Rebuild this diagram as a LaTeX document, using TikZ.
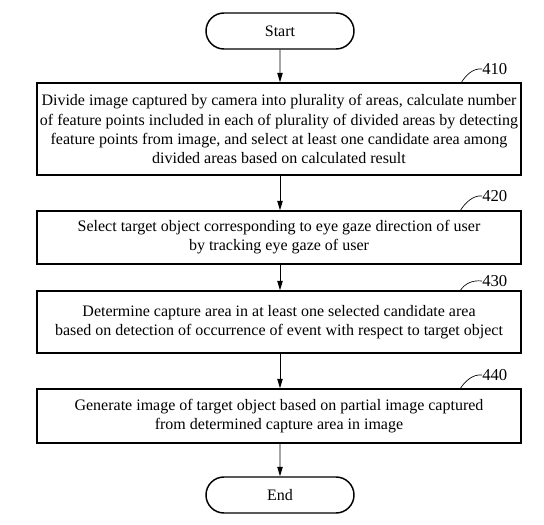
\documentclass[tikz,border=0pt]{standalone}
\usepackage{fontspec}
\setmainfont{Liberation Serif}
\usetikzlibrary{arrows.meta,shapes.misc,calc}
\begin{document}
\begin{tikzpicture}[x=0.75pt,y=-0.75pt,
  every node/.style={font=\fontsize{12}{14.3}\selectfont, inner sep=0pt},
  term/.style={draw, line width=1.1pt, rounded rectangle, minimum width=111pt, minimum height=27pt},
  stepbox/.style={draw, line width=1.1pt, minimum width=363pt, align=center},
  flow/.style={draw, line width=0.7pt, -{Triangle[length=7pt,width=4pt]}},
  leader/.style={draw, line width=0.5pt},
  lbl/.style={anchor=west, font=\fontsize{12.5}{14}\selectfont}]
\useasboundingbox (0,0) rectangle (544,525);
\node[term] (start) at (280,31) {Start};
\node[stepbox, minimum height=69pt] (s410) at (279,129) {Divide image captured by camera into plurality of areas, calculate number\\of feature points included in each of plurality of divided areas by detecting\\feature points from image, and select at least one candidate area among\\divided areas based on calculated result};
\node[stepbox, minimum height=39.75pt] (s420) at (279,237.5) {Select target object corresponding to eye gaze direction of user\\by tracking eye gaze of user};
\node[stepbox, minimum height=46.5pt] (s430) at (279,322) {Determine capture area in at least one selected candidate area\\based on detection of occurrence of event with respect to target object};
\node[stepbox, minimum height=40.5pt] (s440) at (279,416) {Generate image of target object based on partial image captured\\from determined capture area in image};
\node[term] (end) at (280,495) {End};
\path[flow] (start) -- (s410.north -| start);
\path[flow] (s410.south -| start) -- (s420.north -| start);
\path[flow] (s420.south -| start) -- (s430.north -| start);
\path[flow] (s430.south -| start) -- (s440.north -| start);
\path[flow] (s440.south -| start) -- (end);
\node[lbl] (l410) at (482,69) {410};
\node[lbl] (l420) at (482,196) {420};
\node[lbl] (l430) at (482,281) {430};
\node[lbl] (l440) at (482,375) {440};
\coordinate (c410) at (461,83);
\coordinate (c420) at (460,211);
\coordinate (c430) at (460,291);
\coordinate (c440) at (460,389);
\foreach \n in {410,420,430,440}{
  \path[leader] (c\n) .. controls ($(c\n)+(5,-8)$) and ($(l\n.west)+(-9,-1)$) .. (l\n.west);
}
\end{tikzpicture}
\end{document}
